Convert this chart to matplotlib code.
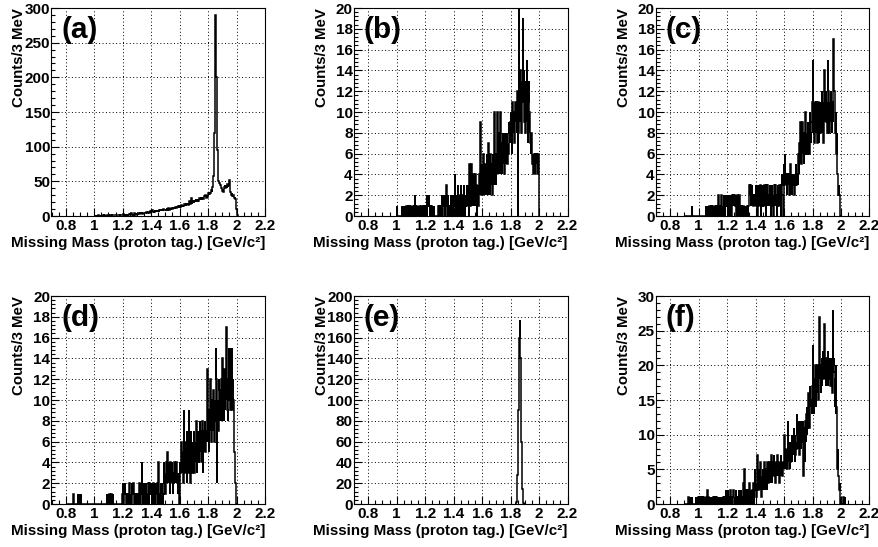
"""Six missing-mass histograms (ROOT-style 2x3 grid)."""

import matplotlib
matplotlib.use("Agg")
import matplotlib.pyplot as plt
from matplotlib.ticker import MultipleLocator, FuncFormatter
import numpy as np

BIN = 0.003  # GeV, 3 MeV bins

# panel (a): inclusive
a_start = 1.0
a_counts = [
    0,1,0,0,1,0,1,0,0,1,1,0,0,1,0,1,1,0,1,0,0,1,1,0,1,1,0,1,0,1,1,2,1,
    1,1,0,2,1,1,2,1,0,1,2,1,1,2,2,1,1,2,1,2,1,1,2,2,1,2,1,3,2,1,2,2,1,
    2,2,3,1,2,2,3,2,2,1,3,2,3,2,2,3,3,2,2,3,2,4,3,2,3,3,2,3,4,3,2,3,3,
    3,4,3,3,4,3,5,3,4,4,3,5,4,4,3,5,4,5,4,4,5,5,4,6,5,4,5,5,6,4,5,6,7,
    6,5,7,6,8,7,6,5,7,6,8,7,6,7,8,6,7,9,7,6,8,7,8,9,7,8,7,9,8,7,10,8,9,
    8,9,10,8,9,11,9,10,8,11,10,9,12,10,11,9,12,11,10,12,11,13,10,12,11,13,12,11,14,12,13,12,14,
    13,14,12,15,13,14,16,13,15,14,16,15,14,17,15,16,18,15,17,16,18,17,16,19,17,22,18,17,20,26,19,18,21,
    20,22,19,21,23,20,22,24,21,23,22,25,23,21,24,26,23,25,24,27,25,23,26,28,25,27,26,29,27,30,28,26,29,
    30,28,31,33,30,34,32,35,33,36,38,35,39,42,48,58,80,120,170,240,290,260,200,140,95,70,56,50,47,48,44,45,41,
    43,41,38,36,39,35,37,40,42,44,41,45,43,40,44,46,42,45,48,52,47,40,35,32,30,33,29,31,28,30,27,26,28,
    25,22,18,10,4,1,0,
]

# panel (b)
b_start = 1.0
b_counts = [
    1,0,0,0,0,0,0,0,0,0,0,0,1,0,1,0,1,1,0,1,0,1,1,0,1,0,1,1,0,1,1,0,1,
    1,0,1,1,0,1,1,0,1,1,2,1,0,1,1,0,1,1,0,1,1,1,0,1,0,1,1,0,1,1,0,1,1,
    1,0,1,1,0,2,1,2,1,2,1,0,1,1,0,1,0,0,1,0,0,1,0,0,0,0,0,0,0,0,0,1,0,
    0,1,1,0,1,1,2,1,0,1,1,2,1,0,2,1,1,3,1,0,1,2,1,1,0,1,1,2,0,1,1,0,2,
    1,0,2,1,4,1,0,2,1,0,1,3,0,1,2,1,0,2,3,1,0,1,2,0,1,3,1,2,0,1,2,1,3,
    2,1,3,2,0,5,2,1,3,2,5,1,3,2,4,1,3,2,2,4,1,3,2,0,2,3,1,2,4,2,3,9,2,
    3,5,2,4,3,6,2,4,3,5,2,4,3,6,4,2,7,3,5,4,2,6,3,4,5,3,2,6,4,5,3,10,4,
    5,3,6,4,7,10,4,6,5,8,4,6,10,5,7,4,6,8,5,7,6,4,8,6,5,7,6,8,5,7,6,8,9,
    8,7,9,10,8,6,9,11,8,10,9,7,10,8,11,9,10,8,12,9,0,8,20,11,9,14,10,12,8,13,11,19,12,
    10,14,9,12,8,13,10,15,9,12,7,11,13,8,10,9,7,6,8,6,7,5,6,4,5,6,5,4,6,5,6,5,4,
    6,5,6,0,0,
]

# panel (c)
c_start = 0.9
c_counts = [
    0,0,0,0,0,0,0,0,0,0,0,0,0,0,0,0,0,1,0,0,0,0,0,0,0,0,0,0,0,0,0,0,0,
    0,0,0,0,0,0,0,0,0,0,0,0,0,0,0,0,0,1,0,0,0,0,1,0,0,1,0,0,1,0,1,0,1,
    1,0,1,1,0,1,1,0,1,1,0,1,1,2,1,0,1,1,0,1,2,1,1,0,1,0,2,1,0,1,1,2,1,
    2,1,0,2,1,1,0,2,1,2,1,0,2,2,1,2,2,1,2,2,1,2,0,2,1,2,2,0,1,2,1,0,1,
    0,1,0,0,1,0,1,0,0,1,0,1,1,0,0,1,0,1,3,1,3,2,3,1,2,3,1,2,2,1,2,1,2,
    1,2,3,1,2,3,0,2,1,3,2,1,2,3,0,2,3,1,3,2,1,2,3,1,2,0,2,3,1,3,1,2,2,
    1,2,3,2,0,2,3,3,1,2,0,2,3,1,2,3,1,2,0,1,3,2,1,2,3,1,2,0,2,3,4,2,1,
    0,2,5,3,6,4,3,4,3,2,4,3,4,3,2,4,3,5,2,3,4,2,3,4,3,4,2,3,4,3,5,3,4,
    4,5,3,6,4,7,5,9,6,8,5,7,9,6,8,5,7,6,9,10,8,6,7,8,6,9,7,8,6,9,10,8,7,
    9,10,11,8,15,9,11,7,10,11,8,9,11,10,7,8,11,9,7,10,11,8,9,10,12,8,9,11,7,10,14,9,11,
    10,12,9,11,8,15,10,12,9,8,11,10,12,9,10,8,11,9,13,17,16,12,10,8,9,10,6,8,4,3,2,3,2,
    2,1,0,
]

# panel (d)
d_start = 0.8
d_counts = [
    0,0,0,0,0,0,0,0,0,0,0,0,0,0,0,0,0,0,1,0,0,0,0,0,0,0,0,0,1,0,1,0,0,
    1,0,1,0,0,0,0,0,0,0,0,0,0,0,0,0,0,0,0,0,0,0,0,0,0,0,0,0,0,0,0,0,0,
    0,0,0,0,0,0,0,0,0,0,0,0,0,0,0,0,0,0,0,0,0,0,0,0,0,0,0,0,0,0,1,0,0,
    1,0,0,1,0,0,1,0,1,0,0,1,0,0,0,0,0,0,0,0,0,0,0,0,0,0,0,0,0,0,0,0,1,
    1,2,1,0,1,1,2,1,0,1,0,1,1,0,1,0,1,2,1,0,1,1,0,2,1,1,2,0,1,0,1,1,0,
    1,1,0,1,0,1,1,2,1,0,1,2,1,4,0,1,1,0,2,1,1,0,1,2,1,0,1,1,2,0,1,2,1,
    1,2,1,0,2,1,1,2,0,1,2,1,0,2,1,1,2,0,1,4,2,1,0,1,2,0,1,2,1,0,1,4,1,
    2,3,1,2,4,2,3,5,2,3,2,4,3,1,4,2,3,4,2,3,1,3,2,4,3,2,3,2,4,3,2,3,1,
    2,3,0,4,3,5,4,6,3,5,4,2,4,9,3,5,6,3,4,2,7,5,6,3,9,4,6,5,2,7,4,6,3,
    6,5,4,7,3,6,5,4,6,8,3,5,7,4,6,5,4,8,6,5,7,6,4,8,3,6,5,7,6,8,5,6,7,
    8,6,13,7,9,5,8,10,7,12,9,6,8,10,7,9,11,8,6,10,8,9,15,12,2,8,10,7,12,9,11,8,10,
    9,12,8,10,14,9,11,8,13,10,9,12,10,17,11,9,10,8,12,15,10,14,9,15,11,10,15,9,12,10,6,8,5,
    5,2,1,0,
]

# panel (e): narrow peak only
e_start = 1.833
e_counts = [0,1,2,5,12,28,55,90,130,160,177,168,140,100,60,30,14,6,3,1,1,0]

# panel (f)
f_start = 0.9
f_counts = [
    0,0,0,0,0,0,0,0,0,1,0,0,0,1,0,0,0,1,0,0,0,0,0,0,0,0,0,1,0,1,0,0,1,
    0,1,1,0,1,0,1,1,0,1,0,1,1,0,0,1,0,1,1,0,2,1,0,1,1,0,1,0,1,1,0,1,0,
    1,1,0,1,1,0,1,0,1,1,0,0,1,0,1,0,0,0,0,1,0,0,1,0,0,1,0,1,1,0,1,2,1,
    0,1,2,0,1,0,1,0,2,1,0,1,0,1,1,2,0,1,0,1,0,2,1,0,1,1,0,1,2,1,0,1,1,
    2,1,0,1,2,1,3,0,5,1,2,1,0,2,1,0,1,2,0,1,3,1,0,2,1,0,1,2,0,3,1,0,2,
    5,2,3,1,4,2,7,3,2,5,3,4,2,6,3,1,4,3,5,2,4,3,6,2,5,4,3,5,2,6,4,3,5,
    4,6,3,5,4,7,5,3,6,4,5,7,4,6,5,3,5,6,4,7,5,4,6,5,3,6,5,4,7,5,6,4,5,
    6,7,5,10,6,8,5,7,6,8,5,12,7,6,8,5,9,6,8,7,10,6,8,7,9,11,8,6,10,7,9,8,13,
    10,8,11,9,12,7,10,9,12,8,11,10,9,12,4,10,8,11,6,12,9,13,10,14,11,12,16,13,11,17,12,15,14,
    15,13,17,14,23,16,13,18,15,20,17,14,19,16,20,18,15,19,17,27,18,20,16,19,21,17,20,22,18,19,26,20,18,
    20,17,21,18,19,22,17,20,21,18,20,17,19,21,18,20,16,19,28,20,21,19,14,18,13,20,14,10,5,8,4,3,2,
    2,3,0,1,0,0,0,0,0,1,0,0,0,1,0,
]

panel_tags = ["(a)", "(b)", "(c)", "(d)", "(e)", "(f)"]
panel_data = [(a_start, a_counts), (b_start, b_counts), (c_start, c_counts),
              (d_start, d_counts), (e_start, e_counts), (f_start, f_counts)]
y_max = [300, 20, 20, 20, 200, 30]
y_step = [50, 2, 2, 2, 20, 5]

plt.rcParams["font.family"] = ["Liberation Sans", "DejaVu Sans"]
plt.rcParams["font.weight"] = "bold"

fig = plt.figure(figsize=(8.79, 5.47), dpi=100)
W, H = 879.0, 547.0
lefts = [51.5, 354.0, 656.0]
bottoms = [216.0, 504.0]
aw, ah = 213.5, 208.0

for i, (tag, (start, counts)) in enumerate(zip(panel_tags, panel_data)):
    row, col = divmod(i, 3)
    ax = fig.add_axes([lefts[col] / W, (H - bottoms[row]) / H, aw / W, ah / H])
    counts = np.asarray(counts, dtype=float)
    edges = start + BIN * np.arange(len(counts) + 1)
    ax.stairs(counts, edges, color="black", lw=1.1)

    ax.set_xlim(0.7, 2.2)
    ax.set_ylim(0, y_max[i])
    ax.xaxis.set_major_locator(MultipleLocator(0.2))
    ax.xaxis.set_minor_locator(MultipleLocator(0.05))
    ax.yaxis.set_major_locator(MultipleLocator(y_step[i]))
    ax.yaxis.set_minor_locator(MultipleLocator(y_step[i] / 5))
    ax.xaxis.set_major_formatter(FuncFormatter(lambda v, p: f"{v:g}"))
    ax.yaxis.set_major_formatter(FuncFormatter(lambda v, p: f"{v:g}"))
    ax.tick_params(which="both", direction="in", top=False, right=False,
                   width=0.8, labelsize=11)
    ax.tick_params(axis="x", which="major", length=6, pad=2.5)
    ax.tick_params(axis="x", which="minor", length=3)
    ax.tick_params(axis="y", which="major", length=6, pad=1)
    ax.tick_params(axis="y", which="minor", length=3)
    for s in ax.spines.values():
        s.set_linewidth(0.8)

    ax.grid(True, which="major", color="black", ls=(0, (1, 2.5)), lw=0.7)
    ax.set_axisbelow(False)

    ax.set_xlabel("Missing Mass (proton tag.) [GeV/c²]", fontsize=10.9,
                  fontweight="bold", loc="right")
    ax.xaxis.set_label_coords(1.0, -0.098)
    ax.set_ylabel("Counts/3 MeV", fontsize=10.8, fontweight="bold", loc="top")
    ax.yaxis.set_label_coords(-0.118, 1.0)

    ax.text(0.045, 0.96, tag, transform=ax.transAxes, ha="left", va="top",
            fontsize=21.5, fontweight="bold")

fig.savefig("out.png", dpi=100, facecolor="white")
plt.close(fig)
